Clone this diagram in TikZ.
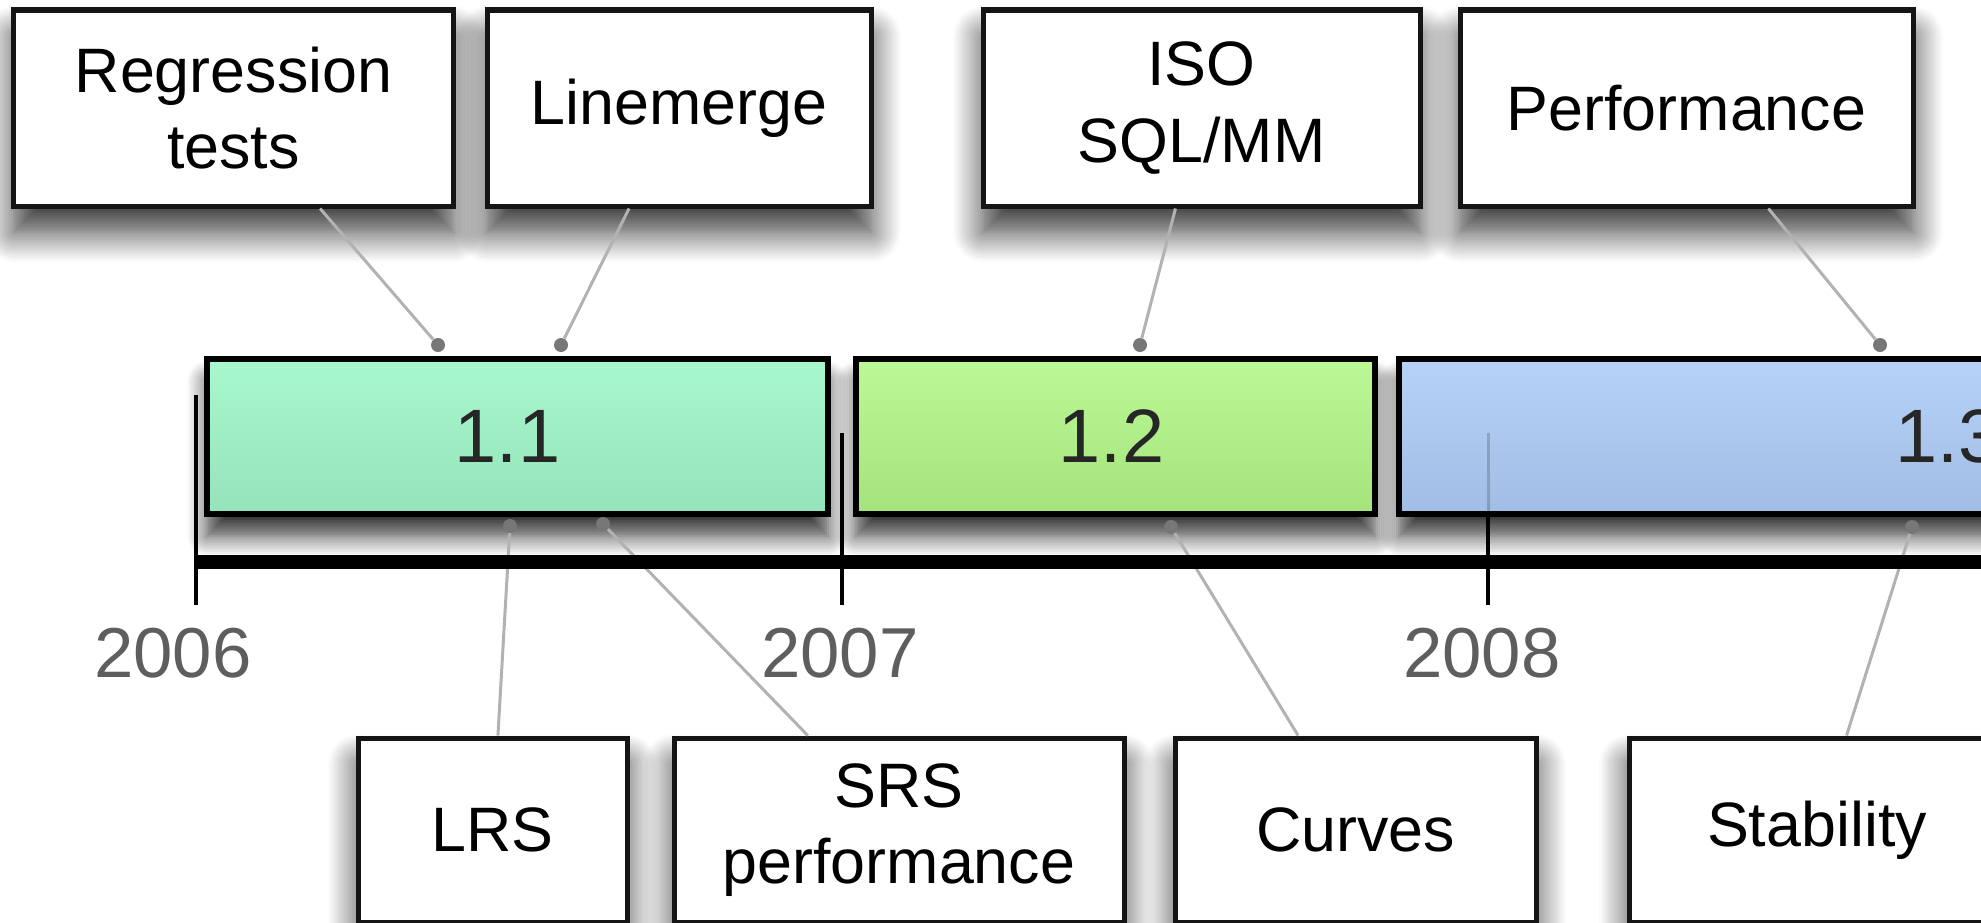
\documentclass[tikz,border=0pt]{standalone}
\usepackage{fontspec}
\setmainfont{Liberation Sans}
\usetikzlibrary{shadows.blur}
\definecolor{boxline}{HTML}{151515}
\definecolor{connc}{HTML}{B2B2B2}
\definecolor{dotc}{HTML}{777777}
\definecolor{yearc}{HTML}{5E5E5E}
\definecolor{gAtop}{HTML}{A8F8CD}
\definecolor{gAbot}{HTML}{94E3BA}
\definecolor{gBtop}{HTML}{BAF996}
\definecolor{gBbot}{HTML}{A5E37B}
\definecolor{gCtop}{HTML}{B6D2F8}
\definecolor{gCbot}{HTML}{A2BDE5}
\begin{document}
\begin{tikzpicture}[x=1bp,y=-1bp,
  every node/.style={inner sep=0pt, align=center},
  boxshadow/.style={blur shadow={shadow xshift=0bp, shadow yshift=-26bp, shadow blur radius=30bp, shadow blur steps=14, shadow opacity=80}},
  topbox/.style={draw=boxline, line width=5bp, fill=white, boxshadow,
    minimum height=196bp, font=\fontsize{63}{77}\selectfont},
  botbox/.style={draw=boxline, line width=5bp, fill=white, boxshadow,
    minimum height=184bp, font=\fontsize{63}{77}\selectfont},
  verbar/.style={draw=black, line width=6bp, minimum height=155bp,
    blur shadow={shadow xshift=0bp, shadow yshift=-22bp, shadow blur radius=20bp, shadow blur steps=10, shadow opacity=80},
    font=\fontsize{76}{90}\selectfont, text=black!85},
  yearlbl/.style={font=\fontsize{71}{80}\selectfont, text=yearc},
  conn/.style={draw=connc, line width=3bp},
  dotmark/.style={circle, fill=dotc, minimum size=14bp},
  tickline/.style={draw=black, line width=4bp}
]
\useasboundingbox (0,0) rectangle (1981,923);
\clip (0,0) rectangle (1981,923);

% top boxes
\node[topbox, minimum width=439bp] (reg) at (233.5,108) {Regression\\tests};
\node[topbox, minimum width=384bp] (lm) at (679,108) {Linemerge};
\node[topbox, minimum width=437bp] (iso) at (1201.5,108) {ISO\\SQL/MM};
\node[topbox, minimum width=453bp] (perf) at (1686.5,108) {Performance};

% version bars
\node[verbar, top color=gAtop, bottom color=gAbot, minimum width=621bp] (v11) at (517.5,436.5) {\hspace*{-20bp}1.1};
\node[verbar, top color=gBtop, bottom color=gBbot, minimum width=519bp] (v12) at (1115.5,436.5) {\hspace*{-8bp}1.2};
\node[verbar, top color=gCtop, bottom color=gCbot, minimum width=1098bp] (v13) at (1948,436.5) {1.3};

% bottom boxes
\node[botbox, minimum width=269bp] (lrs) at (492.5,830) {LRS};
\node[botbox, minimum width=450bp] (srs) at (899,830) {SRS\\performance};
\node[botbox, minimum width=361bp] (curves) at (1355.5,830) {Curves};
\node[botbox, minimum width=376bp] (stab) at (1817,830) {Stability};

% anchor dots
\node[dotmark] (dreg) at (438,345) {};
\node[dotmark] (dlm) at (561,345) {};
\node[dotmark] (diso) at (1140,345) {};
\node[dotmark] (dperf) at (1880,345) {};
\node[dotmark] (dlrs) at (510,526) {};
\node[dotmark] (dsrs) at (603,524) {};
\node[dotmark] (dcur) at (1171,527) {};
\node[dotmark] (dstab) at (1912,527) {};

% connectors
\draw[conn] (dreg) -- (reg);
\draw[conn] (dlm) -- (lm);
\draw[conn] (diso) -- (iso);
\draw[conn] (dperf) -- (perf);
\draw[conn] (dlrs) -- (lrs);
\draw[conn] (dsrs) -- (srs);
\draw[conn] (dcur) -- (curves);
\draw[conn] (dstab) -- (stab);

% timeline
\draw[draw=black, line width=14bp] (196,562) -- (2100,562);
\draw[tickline] (196,395) -- (196,605);
\draw[tickline] (842,433) -- (842,605);
\draw[tickline] (1488,514) -- (1488,605);
\draw[draw=black, line width=3bp, opacity=0.18] (1488,433) -- (1488,514);

% year labels
\node[yearlbl] (y2006) at (173,653) {2006};
\node[yearlbl] (y2007) at (840,653) {2007};
\node[yearlbl] (y2008) at (1482,653) {2008};
\end{tikzpicture}
\end{document}
